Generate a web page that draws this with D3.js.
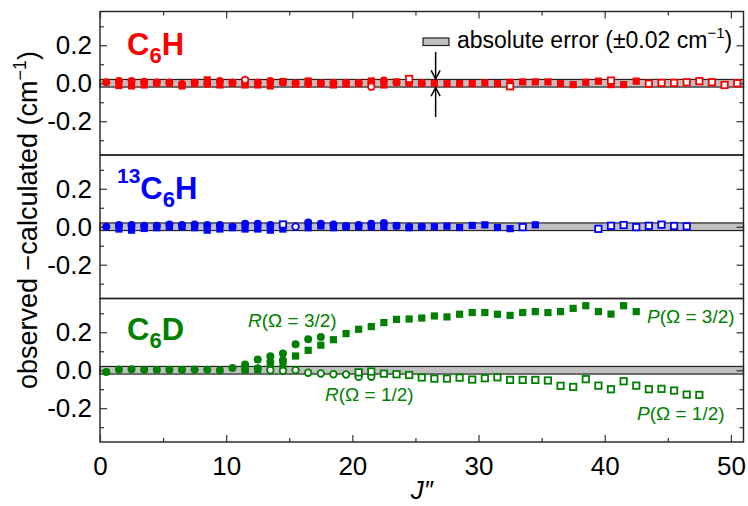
<!DOCTYPE html>
<html>
<head>
<meta charset="utf-8">
<script src="https://cdn.jsdelivr.net/npm/d3@7"></script>
<style>
  html, body { margin: 0; padding: 0; background: #fff; }
  svg { display: block; font-family: "Liberation Sans", Arial, sans-serif; }
</style>
</head>
<body>
<svg id="chart" width="748" height="506"></svg>
<script>
// ---- residuals (observed - calculated, cm^-1) versus J'' ----

// C6H
const c6hCircleJ = [0.5,1.5,2.5,3.5,4.5,5.5,6.5,7.5,8.5,9.5,10.5,11.5,12.5,13.5,14.5,15.5,16.5,17.5,18.5,19.5,20.5,21.5,22.5,23.5,24.5,25.5];
const c6hCircle  = [0.005,0.012,0.012,0.008,0.004,0.004,-0.004,0.004,-0.004,0.012,0.004,0.000,0.004,0.012,0.004,0.000,-0.004,0.000,0.002,0.002,0.000,0.004,0.014,0.004,0.002,0.000];
const c6hSquareJ = [1.5,2.5,3.5,4.5,5.5,6.5,7.5,8.5,9.5,10.5,11.5,12.5,13.5,14.5,15.5,16.5,17.5,18.5,19.5,20.5,21.5,22.5,23.5,24.5,25.5,26.5,27.5,28.5,29.5,30.5,31.5,32.5,33.5,34.5,35.5,36.5,37.5,38.5,39.5,40.5,41.5,42.5];
const c6hSquare  = [-0.012,-0.014,-0.009,0.000,0.000,-0.014,-0.002,0.018,-0.009,0.000,-0.009,-0.009,-0.014,0.009,-0.004,0.012,-0.002,-0.009,-0.004,0.000,0.012,-0.009,0.007,0.000,0.000,0.000,-0.002,-0.002,-0.002,0.002,-0.002,0.005,0.007,0.007,0.007,-0.002,-0.007,0.005,0.011,-0.007,-0.007,0.011];
const c6hOpenCircleJ = [11.5,21.5];
const c6hOpenCircle  = [0.018,-0.018];
const c6hOpenSquareJ = [24.5,32.5,40.5,43.5,44.5,45.5,46.5,47.5,48.5,49.5,50.5];
const c6hOpenSquare  = [0.023,-0.016,0.014,-0.002,0.002,0.002,0.005,0.011,0.005,-0.009,0.000];

// 13C6H
const c13CircleJ = [0.5,1.5,2.5,3.5,4.5,5.5,6.5,7.5,8.5,9.5,10.5,11.5,12.5,13.5,14.5,16.5,17.5,18.5,19.5,20.5,21.5,22.5,23.5,24.5,25.5];
const c13Circle  = [0.000,0.009,0.009,0.005,0.005,0.012,0.009,0.012,0.009,0.009,0.000,0.016,0.016,0.009,0.004,0.022,0.016,0.012,0.004,0.009,0.016,0.020,0.005,0.000,0.000];
const c13SquareJ = [1.5,2.5,3.5,4.5,5.5,6.5,7.5,8.5,9.5,10.5,11.5,12.5,13.5,14.5,16.5,17.5,18.5,19.5,20.5,21.5,22.5,23.5,24.5,25.5,26.5,27.5,28.5,29.5,30.5,31.5,32.5,34.5];
const c13Square  = [-0.012,-0.018,-0.009,-0.005,0.000,0.000,-0.005,-0.018,-0.012,-0.005,-0.012,-0.012,-0.018,-0.012,-0.005,0.004,-0.005,0.000,0.000,0.000,0.000,0.005,-0.005,0.000,0.000,0.003,-0.004,0.007,0.010,-0.004,-0.010,0.010];
const c13OpenCircleJ = [15.5];
const c13OpenCircle  = [0.000];
const c13OpenSquareJ = [14.5,33.5,39.5,40.5,41.5,42.5,43.5,44.5,45.5,46.5];
const c13OpenSquare  = [0.012,-0.002,-0.011,0.005,0.009,-0.002,0.005,0.011,0.004,0.002];

// C6D
const c6dCircleJ = [0.5,1.5,2.5,3.5,4.5,5.5,6.5,7.5,8.5,9.5,10.5,11.5,12.5,13.5,14.5,15.5,16.5,17.5,11.5,12.5,13.5,14.5];
const c6dCircle  = [-0.009,0.004,0.005,0.002,0.002,0.002,0.002,0.004,0.002,0.000,0.012,0.030,0.056,0.074,0.088,0.137,0.163,0.175,0.004,0.010,0.044,0.053];
const c6dSquareJ = [11.5,12.5,13.5,14.5,15.5,16.5,17.5,18.5,19.5,20.5,21.5,22.5,23.5,24.5,25.5,26.5,27.5,28.5,29.5,30.5,31.5,32.5,33.5,34.5,35.5,36.5,37.5,38.5,39.5,40.5,41.5,42.5];
const c6dSquare  = [0.000,0.003,0.014,0.026,0.075,0.105,0.132,0.161,0.193,0.216,0.230,0.251,0.268,0.270,0.275,0.286,0.281,0.295,0.304,0.304,0.295,0.289,0.304,0.309,0.304,0.309,0.326,0.340,0.309,0.296,0.340,0.309];
const c6dOpenCircleJ = [13.5,14.5,15.5,16.5,17.5,18.5,19.5,20.5,21.5];
const c6dOpenCircle  = [0.000,-0.003,0.001,-0.013,-0.017,-0.021,-0.022,-0.035,-0.034];
const c6dOpenSquareJ = [20.5,21.5,22.5,23.5,24.5,25.5,26.5,27.5,28.5,29.5,30.5,31.5,32.5,33.5,34.5,35.5,36.5,37.5,38.5,39.5,40.5,41.5,42.5,43.5,44.5,45.5,46.5,47.5];
const c6dOpenSquare  = [-0.011,-0.007,-0.018,-0.021,-0.025,-0.038,-0.044,-0.044,-0.039,-0.049,-0.042,-0.037,-0.051,-0.051,-0.051,-0.054,-0.082,-0.088,-0.047,-0.081,-0.100,-0.058,-0.081,-0.100,-0.098,-0.107,-0.128,-0.130];

// axis settings
const xDomain = [0, 51];
const xMajorTicks = [0, 10, 20, 30, 40, 50];
const xMinorTicks = [5, 15, 25, 35, 45];
const yDomain = [-0.378, 0.378];
const yMajorTicks = [-0.2, 0, 0.2];
const yMinorTicks = [-0.3, -0.1, 0.1, 0.3];
const errorBand = 0.02;

const panels = [
  { color: "#ff0000", circleJ: c6hCircleJ, circle: c6hCircle, squareJ: c6hSquareJ, square: c6hSquare,
    openCircleJ: c6hOpenCircleJ, openCircle: c6hOpenCircle, openSquareJ: c6hOpenSquareJ, openSquare: c6hOpenSquare },
  { color: "#0000ff", circleJ: c13CircleJ, circle: c13Circle, squareJ: c13SquareJ, square: c13Square,
    openCircleJ: c13OpenCircleJ, openCircle: c13OpenCircle, openSquareJ: c13OpenSquareJ, openSquare: c13OpenSquare },
  { color: "#008000", circleJ: c6dCircleJ, circle: c6dCircle, squareJ: c6dSquareJ, square: c6dSquare,
    openCircleJ: c6dOpenCircleJ, openCircle: c6dOpenCircle, openSquareJ: c6dOpenSquareJ, openSquare: c6dOpenSquare }
];

// ---- layout ----
const svg = d3.select("#chart");
const plotL = 100, plotR = 743.5, plotT = 11.5, plotB = 442;
const panelH = (plotB - plotT) / 3;
const fontFam = '"Liberation Sans", Arial, sans-serif';
const tickFont = 26;

const x = d3.scaleLinear().domain(xDomain).range([plotL, plotR]);
const fmt = d => (Math.abs(d) < 1e-9 ? 0 : d).toFixed(1);

panels.forEach((p, i) => {
  const top = plotT + i * panelH;
  const y = d3.scaleLinear().domain(yDomain).range([top + panelH, top]);
  p.y = y;
  const g = svg.append("g");

  // experimental uncertainty band
  g.append("rect")
    .attr("x", x(xDomain[0])).attr("width", x(xDomain[1]) - x(xDomain[0]))
    .attr("y", y(errorBand)).attr("height", y(-errorBand) - y(errorBand))
    .attr("fill", "#c0c0c0").attr("stroke", "#222").attr("stroke-width", 1.2);

  // left / right y ticks
  const yAxes = [
    d3.axisLeft(y).tickValues(yMajorTicks).tickSizeInner(-7).tickSizeOuter(0).tickPadding(8).tickFormat(fmt),
    d3.axisLeft(y).tickValues(yMinorTicks).tickSizeInner(-4).tickSizeOuter(0).tickFormat(""),
  ];
  yAxes.forEach(ax => {
    const a = g.append("g").attr("transform", `translate(${plotL},0)`).call(ax);
    a.select(".domain").remove();
    a.selectAll("line").attr("stroke", "#333").attr("stroke-width", 1.2);
    a.selectAll("text").attr("font-size", tickFont).attr("font-family", fontFam).attr("fill", "#000");
  });
  [
    d3.axisRight(y).tickValues(yMajorTicks).tickSizeInner(-7).tickSizeOuter(0).tickFormat(""),
    d3.axisRight(y).tickValues(yMinorTicks).tickSizeInner(-4).tickSizeOuter(0).tickFormat("")
  ].forEach(ax => {
    const a = g.append("g").attr("transform", `translate(${plotR},0)`).call(ax);
    a.select(".domain").remove();
    a.selectAll("line").attr("stroke", "#333").attr("stroke-width", 1.2);
  });

  // markers
  const sq = 7.2, osq = 6.4, r = 4, orr = 3.3;
  g.append("g").selectAll("circle").data(d3.zip(p.circleJ, p.circle)).join("circle")
    .attr("cx", d => x(d[0])).attr("cy", d => y(d[1])).attr("r", r).attr("fill", p.color);
  g.append("g").selectAll("rect").data(d3.zip(p.squareJ, p.square)).join("rect")
    .attr("x", d => x(d[0]) - sq / 2).attr("y", d => y(d[1]) - sq / 2)
    .attr("width", sq).attr("height", sq).attr("fill", p.color);
  g.append("g").selectAll("circle").data(d3.zip(p.openCircleJ, p.openCircle)).join("circle")
    .attr("cx", d => x(d[0])).attr("cy", d => y(d[1])).attr("r", orr)
    .attr("fill", "#fff").attr("stroke", p.color).attr("stroke-width", 1.8);
  g.append("g").selectAll("rect").data(d3.zip(p.openSquareJ, p.openSquare)).join("rect")
    .attr("x", d => x(d[0]) - osq / 2).attr("y", d => y(d[1]) - osq / 2)
    .attr("width", osq).attr("height", osq)
    .attr("fill", "#fff").attr("stroke", p.color).attr("stroke-width", 1.8);

  // panel frame
  g.append("rect").attr("x", plotL).attr("y", top).attr("width", plotR - plotL).attr("height", panelH)
    .attr("fill", "none").attr("stroke", "#222").attr("stroke-width", 1.4);
});

// x ticks: top edge of upper panel and bottom edge of lower panel
[[d3.axisTop, plotT, ""], [d3.axisBottom, plotB, null]].forEach(([axisFn, pos, noLab]) => {
  const major = axisFn(x).tickValues(xMajorTicks).tickSizeInner(-7).tickSizeOuter(0).tickPadding(15);
  if (noLab === "") major.tickFormat(""); else major.tickFormat(d3.format("d"));
  const minor = axisFn(x).tickValues(xMinorTicks).tickSizeInner(-4).tickSizeOuter(0).tickFormat("");
  [major, minor].forEach(ax => {
    const a = svg.append("g").attr("transform", `translate(0,${pos})`).call(ax);
    a.select(".domain").remove();
    a.selectAll("line").attr("stroke", "#333").attr("stroke-width", 1.2);
    a.selectAll("text").attr("font-size", tickFont).attr("font-family", fontFam).attr("fill", "#000");
  });
});

// species labels
function species(parts, xPos, yBase, color) {
  const t = svg.append("text").attr("x", xPos).attr("y", yBase)
    .attr("fill", color).attr("font-weight", "bold").attr("font-family", fontFam);
  parts.forEach(([s, size, dy]) => t.append("tspan").attr("font-size", size).attr("dy", dy).text(s));
}
species([["C", 31, 0], ["6", 22, 8], ["H", 31, -8]], 127, 55, "#ff0000");
species([["13", 21, -16], ["C", 31, 16], ["6", 22, 8], ["H", 31, -8]], 117, 199, "#0000ff");
species([["C", 31, 0], ["6", 22, 8], ["D", 31, -8]], 127, 340, "#008000");

// legend for the uncertainty band
svg.append("rect").attr("x", 423).attr("y", 38).attr("width", 26).attr("height", 7.5)
  .attr("fill", "#c0c0c0").attr("stroke", "#222").attr("stroke-width", 1.2);
const leg = svg.append("text").attr("x", 457).attr("y", 48).attr("font-size", 23)
  .attr("font-family", fontFam).attr("fill", "#000");
leg.append("tspan").text("absolute error (\u00b10.02 cm");
leg.append("tspan").attr("font-size", 15).attr("dy", -10).text("\u22121");
leg.append("tspan").attr("dy", 10).text(")");

// arrows marking the band width
const yTop = panels[0].y;
const ax0 = x(26.6);
const arrows = svg.append("g").attr("stroke", "#000").attr("stroke-width", 1.5).attr("fill", "none");
arrows.append("line").attr("x1", ax0).attr("x2", ax0).attr("y1", 52).attr("y2", yTop(errorBand) - 0.5);
arrows.append("path").attr("d", `M${ax0 - 4.5},${yTop(errorBand) - 9}L${ax0},${yTop(errorBand) - 0.5}L${ax0 + 4.5},${yTop(errorBand) - 9}`);
arrows.append("line").attr("x1", ax0).attr("x2", ax0).attr("y1", 117).attr("y2", yTop(-errorBand) + 0.5);
arrows.append("path").attr("d", `M${ax0 - 4.5},${yTop(-errorBand) + 9}L${ax0},${yTop(-errorBand) + 0.5}L${ax0 + 4.5},${yTop(-errorBand) + 9}`);

// branch annotations in the C6D panel
function branch(letter, rest, xPos, yBase) {
  const t = svg.append("text").attr("x", xPos).attr("y", yBase).attr("font-size", 19)
    .attr("font-family", fontFam).attr("fill", "#008000");
  t.append("tspan").attr("font-style", "italic").text(letter);
  t.append("tspan").text(rest);
}
branch("R", "(\u03a9 = 3/2)", 248, 327);
branch("R", "(\u03a9 = 1/2)", 325, 401);
branch("P", "(\u03a9 = 3/2)", 647, 323);
branch("P", "(\u03a9 = 1/2)", 637, 420);

// axis titles
const yt = svg.append("text").attr("transform", "translate(37,220) rotate(-90)")
  .attr("text-anchor", "middle").attr("font-size", 27).attr("font-family", fontFam).attr("fill", "#000");
yt.append("tspan").text("observed \u2212calculated (cm");
yt.append("tspan").attr("font-size", 18).attr("dy", -11).text("\u22121");
yt.append("tspan").attr("dy", 11).text(")");

const xt = svg.append("text").attr("x", (plotL + plotR) / 2).attr("y", 499).attr("text-anchor", "middle")
  .attr("font-size", 26).attr("font-family", fontFam).attr("fill", "#000");
xt.append("tspan").attr("font-style", "italic").text("J");
xt.append("tspan").attr("font-style", "italic").text("\u2033");
</script>
</body>
</html>
